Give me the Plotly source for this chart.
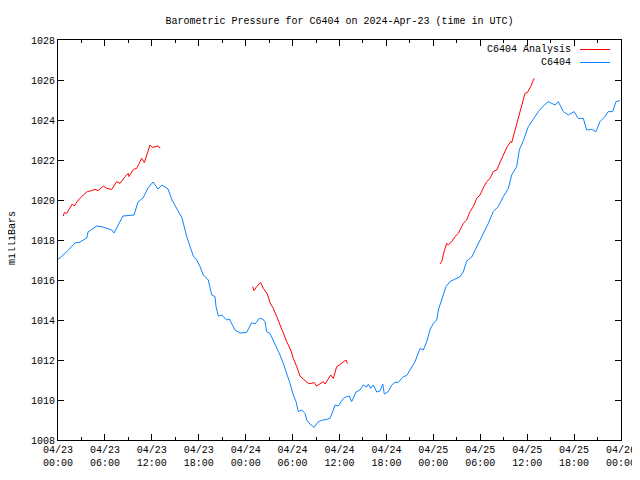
import datetime as dt
import plotly.graph_objects as go

# Hours since 2024-04-23 00:00 UTC
station_hours = [0.0, 0.26, 1.32, 2.17, 2.81, 3.67, 3.84, 4.95, 5.75, 6.87, 7.16, 7.67, 8.31, 9.72, 10.23,
                 10.87, 11.51, 12.15, 12.79, 13.30, 14.07, 14.58, 15.35, 15.86, 16.46, 16.88, 17.30, 17.74,
                 18.16, 18.58, 19.22, 19.66, 20.08, 20.21, 20.50, 20.94, 21.57, 21.91, 22.64, 23.28, 24.13,
                 24.77, 25.19, 25.74, 26.18, 26.47, 26.69, 27.11, 27.53, 27.97, 28.39, 28.81, 29.25, 29.67,
                 30.09, 30.44, 30.73, 31.17, 31.59, 31.81, 32.23, 32.74, 33.29, 33.85, 34.36, 34.79, 35.21,
                 35.43, 35.85, 36.06, 36.49, 36.92, 37.25, 37.56, 38.11, 38.62, 39.04, 39.48, 39.68, 39.99,
                 40.32, 40.76, 41.18, 41.53, 41.73, 42.24, 42.68, 43.10, 43.52, 44.16, 44.59, 45.02, 45.66,
                 46.30, 46.72, 47.15, 47.57, 48.00, 48.43, 48.64, 49.07, 49.62, 50.13, 50.77, 51.41, 51.83,
                 52.27, 52.91, 53.55, 53.97, 54.39, 55.03, 55.67, 56.31, 56.95, 57.59, 58.02, 58.66, 58.99,
                 59.51, 60.15, 60.79, 61.43, 62.07, 62.70, 63.56, 63.98, 64.62, 65.26, 65.99, 66.54, 67.18,
                 67.61, 68.25, 68.80, 69.31, 69.95, 70.37, 70.94, 71.36, 71.87]
station_mb = [1017.05, 1017.1, 1017.5, 1017.85, 1017.9, 1018.1, 1018.4, 1018.7, 1018.65, 1018.5, 1018.35,
              1018.75, 1019.2, 1019.25, 1019.9, 1020.1, 1020.6, 1020.9, 1020.55, 1020.75, 1020.55, 1020.0,
              1019.5, 1019.1, 1018.17, 1017.67, 1017.2, 1017.0, 1016.67, 1016.25, 1016.0, 1015.25, 1015.17,
              1014.67, 1014.2, 1014.25, 1014.0, 1014.05, 1013.5, 1013.35, 1013.38, 1013.87, 1013.8, 1014.08,
              1014.05, 1013.92, 1013.42, 1013.33, 1013.0, 1012.58, 1012.25, 1011.83, 1011.33, 1010.83,
              1010.25, 1009.92, 1009.42, 1009.5, 1009.33, 1009.0, 1008.8, 1008.63, 1008.92, 1009.0, 1009.03,
              1009.08, 1009.5, 1009.75, 1009.7, 1009.85, 1010.08, 1010.17, 1010.2, 1009.92, 1010.4, 1010.5,
              1010.75, 1010.65, 1010.78, 1010.58, 1010.75, 1010.4, 1010.45, 1010.8, 1010.3, 1010.42, 1010.75,
              1010.88, 1010.88, 1011.17, 1011.22, 1011.5, 1011.92, 1012.58, 1012.5, 1012.92, 1013.5, 1013.83,
              1014.0, 1014.5, 1015.0, 1015.67, 1015.92, 1016.03, 1016.17, 1016.4, 1016.95, 1017.15, 1017.67,
              1017.95, 1018.33, 1018.83, 1019.42, 1019.67, 1020.17, 1020.58, 1021.25, 1021.67, 1022.5,
              1022.97, 1023.67, 1024.08, 1024.42, 1024.7, 1024.92, 1024.75, 1024.92, 1024.42, 1024.25,
              1024.42, 1024.08, 1024.08, 1023.5, 1023.53, 1023.42, 1023.92, 1024.17, 1024.42, 1024.42,
              1024.92, 1024.97]

analysis_hours = [0.68, 0.81, 1.11, 1.53, 1.83, 2.08, 2.60, 3.24, 3.75, 4.31, 4.73, 5.15, 5.79, 6.23, 6.87,
                  7.51, 7.93, 8.57, 8.99, 9.08, 9.63, 10.06, 10.70, 11.04, 11.47, 11.77, 12.06, 12.83, 13.04,
                  None,
                  24.90, 25.07, 25.41, 25.92, 26.26, 26.77, 27.11, 27.53, 27.97, 28.39, 28.81, 29.25, 29.76,
                  30.09, 30.53, 30.95, 31.59, 32.01, 32.45, 32.74, 33.08, 33.51, 33.93, 34.15, 34.57, 34.88,
                  35.21, 35.64, 35.98, 36.28, 36.83, 37.00,
                  None,
                  48.85, 49.07, 49.37, 49.71, 49.92, 50.35, 50.77, 51.19, 51.83, 52.27, 52.69, 53.11, 53.55,
                  53.97, 54.48, 54.83, 55.25, 55.67, 56.10, 56.53, 56.95, 57.46, 57.90, 58.02, 58.45, 58.87,
                  59.30, 59.72, 60.02, 60.45, 60.79, 60.92]
analysis_mb = [1019.2, 1019.37, 1019.33, 1019.58, 1019.8, 1019.7, 1020.0, 1020.25, 1020.42, 1020.47,
               1020.53, 1020.47, 1020.7, 1020.58, 1020.53, 1020.92, 1020.83, 1021.17, 1021.33, 1021.17,
               1021.53, 1021.58, 1022.08, 1021.87, 1022.42, 1022.75, 1022.63, 1022.7, 1022.58,
               None,
               1015.67, 1015.47, 1015.67, 1015.88, 1015.58, 1015.3, 1014.87, 1014.58, 1014.17, 1013.75,
               1013.33, 1012.92, 1012.5, 1012.08, 1011.67, 1011.2, 1010.97, 1010.83, 1010.83, 1010.88,
               1010.7, 1010.83, 1010.92, 1010.8, 1011.08, 1011.25, 1011.08, 1011.67, 1011.75, 1011.83,
               1012.0, 1011.83,
               None,
               1016.8, 1016.92, 1017.42, 1017.83, 1017.75, 1017.92, 1018.17, 1018.33, 1018.83, 1019.0,
               1019.42, 1019.67, 1020.08, 1020.25, 1020.67, 1020.92, 1021.08, 1021.42, 1021.5, 1021.92,
               1022.25, 1022.67, 1022.92, 1022.87, 1023.5, 1024.08, 1024.67, 1025.33, 1025.37, 1025.67,
               1026.0, 1026.08]

series_names = ["C6404 Analysis", "C6404"]
series_colors = ["#ff0000", "#0a84ff"]

base = dt.datetime(2024, 4, 23, 0, 0)


def to_time(hours):
    return [None if h is None else base + dt.timedelta(hours=h) for h in hours]


FONT = "Liberation Mono, DejaVu Sans Mono, monospace"

fig = go.Figure()
fig.add_trace(go.Scatter(x=to_time(analysis_hours), y=analysis_mb, mode="lines",
                         name=series_names[0], line=dict(color=series_colors[0], width=1),
                         connectgaps=False))
fig.add_trace(go.Scatter(x=to_time(station_hours), y=station_mb, mode="lines",
                         name=series_names[1], line=dict(color=series_colors[1], width=1)))

# page body has an 8px margin: figure is sized so that it fills the 640x480 window
OFF = 8
W, H = 640 - OFF, 480 - OFF
L, R, T, B = 58 - OFF, 19, 40 - OFF, 40
pw, ph = W - L - R, H - T - B

# Legend drawn gnuplot-style (text left of sample line), positions in page px
for i, (nm, col) in enumerate(zip(series_names, series_colors)):
    ypx = 49.5 + 13 * i - OFF
    yp = (H - B - ypx) / ph
    fig.add_annotation(xref="paper", yref="paper", x=(573 - OFF - L) / pw, y=yp, text=nm,
                       showarrow=False, xanchor="right", yanchor="middle",
                       font=dict(family=FONT, size=10, color="black"))
    fig.add_shape(type="line", xref="paper", yref="paper", x0=(580 - OFF - L) / pw,
                  x1=(610 - OFF - L) / pw, y0=yp, y1=yp, line=dict(color=col, width=1))

fig.add_annotation(xref="paper", yref="paper", x=(12 - OFF - L) / pw, y=(H - B - (238 - OFF)) / ph,
                   text="milliBars", textangle=-90, showarrow=False, xanchor="center",
                   yanchor="middle", font=dict(family=FONT, size=10, color="black"))

fig.update_layout(
    width=W, height=H,
    margin=dict(l=L, r=R, t=T, b=B, autoexpand=False),
    paper_bgcolor="white", plot_bgcolor="white",
    showlegend=False,
    font=dict(family=FONT, size=10, color="black"),
    title=dict(text="Barometric Pressure for C6404 on 2024-Apr-23 (time in UTC)",
               x=(L + pw / 2) / W, xanchor="center", y=1 - (20 - OFF) / H, yanchor="middle",
               font=dict(family=FONT, size=10, color="black")),
)
fig.update_xaxes(
    type="date", automargin=False,
    range=[base, base + dt.timedelta(hours=72)],
    tick0=base, dtick=6 * 3600 * 1000,
    tickformat="%m/%d<br>%H:%M",
    ticks="inside", ticklen=6, tickcolor="black",
    minor=dict(ticks="inside", ticklen=3, dtick=3 * 3600 * 1000, tickcolor="black"),
    showline=True, linecolor="black", linewidth=1, mirror="ticks",
    showgrid=False, zeroline=False,
    tickfont=dict(family=FONT, size=10),
)
fig.update_yaxes(
    automargin=False,
    range=[1008, 1028], dtick=2,
    ticks="inside", ticklen=6, tickcolor="black",
    showline=True, linecolor="black", linewidth=1, mirror="ticks",
    showgrid=False, zeroline=False,
    tickfont=dict(family=FONT, size=10),
)

fig.write_html("out.html")
